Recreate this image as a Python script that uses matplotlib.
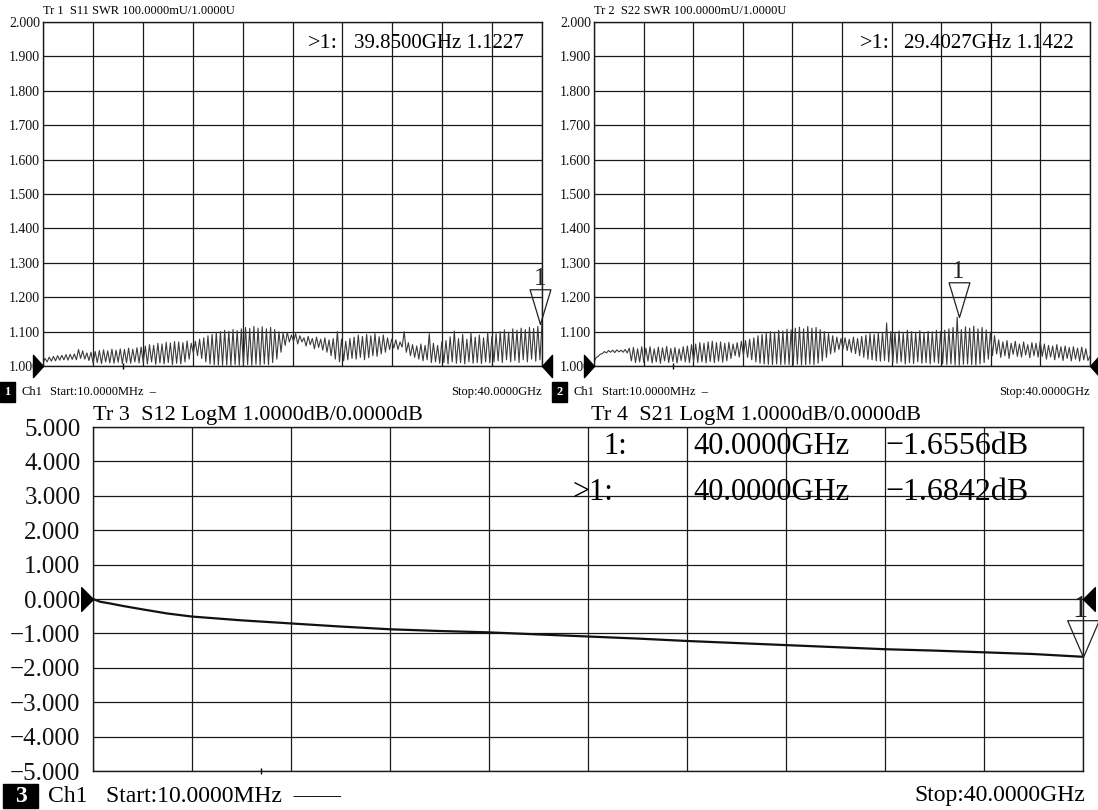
import numpy as np
import matplotlib.pyplot as plt
from matplotlib.patches import Rectangle

plt.rcParams['font.family'] = ['Liberation Serif', 'DejaVu Serif']

W, H = 1098, 810

# Tr1 S11 SWR, alternating ripple highs / lows (24 per 4 GHz division)
s11_swr = [
    1.010, 1.022, 1.012, 1.026, 1.014, 1.028, 1.015, 1.030, 1.017, 1.031, 1.018, 1.033,
    1.017, 1.034, 1.019, 1.035, 1.018, 1.048, 1.022, 1.044, 1.020, 1.038, 1.016, 1.040,
    1.008, 1.042, 1.010, 1.045, 1.007, 1.047, 1.012, 1.044, 1.009, 1.049, 1.008, 1.046,
    1.011, 1.050, 1.007, 1.048, 1.010, 1.052, 1.008, 1.049, 1.012, 1.053, 1.009, 1.055,
    1.010, 1.058, 1.006, 1.062, 1.012, 1.060, 1.005, 1.066, 1.009, 1.064, 1.006, 1.069,
    1.010, 1.067, 1.004, 1.071, 1.008, 1.070, 1.006, 1.068, 1.012, 1.073, 1.020, 1.066,
    1.038, 1.072, 1.030, 1.078, 1.022, 1.082, 1.012, 1.088, 1.006, 1.092, 1.004, 1.097,
    1.003, 1.100, 1.002, 1.104, 1.003, 1.101, 1.002, 1.106, 1.004, 1.103, 1.002, 1.108,
    1.003, 1.112, 1.004, 1.109, 1.002, 1.115, 1.005, 1.110, 1.003, 1.114, 1.006, 1.108,
    1.004, 1.112, 1.010, 1.106, 1.020, 1.100, 1.040, 1.096, 1.060, 1.098, 1.070, 1.090,
    1.072, 1.094, 1.064, 1.088, 1.070, 1.082, 1.058, 1.086, 1.062, 1.080, 1.050, 1.084,
    1.054, 1.078, 1.046, 1.082, 1.040, 1.076, 1.030, 1.080, 1.020, 1.100, 1.012, 1.078,
    1.015, 1.072, 1.018, 1.080, 1.022, 1.084, 1.020, 1.090, 1.025, 1.086, 1.018, 1.092,
    1.024, 1.088, 1.030, 1.094, 1.028, 1.085, 1.035, 1.090, 1.040, 1.082, 1.048, 1.078,
    1.052, 1.076, 1.048, 1.070, 1.055, 1.100, 1.040, 1.068, 1.030, 1.062, 1.025, 1.058,
    1.020, 1.064, 1.015, 1.060, 1.018, 1.094, 1.010, 1.066, 1.012, 1.060, 1.008, 1.070,
    1.010, 1.074, 1.006, 1.085, 1.012, 1.102, 1.008, 1.080, 1.010, 1.092, 1.006, 1.078,
    1.012, 1.095, 1.008, 1.084, 1.010, 1.090, 1.007, 1.082, 1.012, 1.096, 1.009, 1.086,
    1.012, 1.094, 1.015, 1.100, 1.010, 1.105, 1.018, 1.098, 1.012, 1.108, 1.016, 1.104,
    1.010, 1.110, 1.018, 1.106, 1.012, 1.112, 1.020, 1.109, 1.014, 1.115, 1.018, 1.123,
]

# Tr2 S22 SWR
s22_swr = [
    1.012, 1.024, 1.028, 1.034, 1.036, 1.042, 1.038, 1.045, 1.040, 1.046, 1.039, 1.047,
    1.041, 1.046, 1.040, 1.048, 1.038, 1.052, 1.015, 1.054, 1.010, 1.050, 1.012, 1.056,
    1.010, 1.052, 1.014, 1.056, 1.009, 1.050, 1.012, 1.055, 1.008, 1.053, 1.015, 1.057,
    1.010, 1.051, 1.013, 1.054, 1.009, 1.050, 1.016, 1.056, 1.012, 1.058, 1.010, 1.062,
    1.014, 1.064, 1.010, 1.068, 1.012, 1.066, 1.009, 1.070, 1.013, 1.072, 1.010, 1.068,
    1.014, 1.070, 1.011, 1.066, 1.015, 1.069, 1.022, 1.064, 1.030, 1.068, 1.026, 1.072,
    1.032, 1.074, 1.025, 1.078, 1.018, 1.082, 1.012, 1.088, 1.008, 1.092, 1.006, 1.096,
    1.005, 1.100, 1.004, 1.098, 1.006, 1.104, 1.004, 1.102, 1.005, 1.107, 1.004, 1.105,
    1.003, 1.110, 1.005, 1.113, 1.003, 1.108, 1.004, 1.115, 1.006, 1.110, 1.004, 1.112,
    1.008, 1.106, 1.015, 1.100, 1.025, 1.094, 1.035, 1.088, 1.040, 1.084, 1.048, 1.080,
    1.050, 1.082, 1.045, 1.078, 1.040, 1.084, 1.036, 1.080, 1.030, 1.086, 1.025, 1.090,
    1.020, 1.094, 1.018, 1.092, 1.015, 1.096, 1.014, 1.098, 1.016, 1.125, 1.012, 1.100,
    1.010, 1.098, 1.008, 1.102, 1.012, 1.096, 1.006, 1.104, 1.010, 1.100, 1.007, 1.098,
    1.012, 1.103, 1.008, 1.097, 1.010, 1.101, 1.006, 1.099, 1.011, 1.104, 1.008, 1.100,
    1.006, 1.104, 1.004, 1.108, 1.006, 1.112, 1.003, 1.142, 1.002, 1.106, 1.005, 1.114,
    1.006, 1.110, 1.004, 1.116, 1.003, 1.108, 1.006, 1.112, 1.010, 1.105, 1.020, 1.098,
    1.030, 1.088, 1.035, 1.076, 1.025, 1.070, 1.030, 1.074, 1.022, 1.066, 1.034, 1.072,
    1.028, 1.064, 1.026, 1.070, 1.032, 1.062, 1.024, 1.068, 1.030, 1.066, 1.026, 1.072,
    1.028, 1.064, 1.020, 1.060, 1.026, 1.058, 1.018, 1.062, 1.024, 1.056, 1.016, 1.058,
    1.022, 1.054, 1.015, 1.056, 1.020, 1.052, 1.014, 1.055, 1.018, 1.050, 1.016, 1.028,
]

# Tr4 S21 LogM trace
s21_freq = [0.01, 0.3, 0.7, 1.2, 2, 3, 4, 6, 8, 10, 12, 14, 16, 18, 20,
            22, 24, 26, 28, 30, 32, 34, 36, 38, 40]
s21_db = [0.00, -0.08, -0.13, -0.20, -0.30, -0.42, -0.51, -0.62, -0.71, -0.80, -0.88,
          -0.93, -0.97, -1.03, -1.09, -1.15, -1.22, -1.28, -1.34, -1.40, -1.46, -1.50,
          -1.55, -1.60, -1.68]

swr_freq = np.linspace(0.01, 40, len(s11_swr))

# marker readouts
mk_s11 = (39.85, 1.1227)
mk_s22 = (29.4027, 1.1422)
mk_s21 = (40.0, -1.6842)
mk_s12 = (40.0, -1.6556)

fig = plt.figure(figsize=(W / 100, H / 100), dpi=100)


def fx(x):
    return x / W


def fy(y):
    return 1 - y / H


def fmt(v, nd=3):
    return ('%.*f' % (nd, v)).replace('-', '\u2212')


def make_axes(x0, y0, x1, y1, ylo, yhi, fs, pad):
    ax = fig.add_axes([fx(x0), fy(y1), (x1 - x0) / W, (y1 - y0) / H])
    ax.set_xlim(0.01, 40)
    ax.set_ylim(ylo, yhi)
    ax.set_xticks(np.linspace(0.01, 40, 11))
    ticks = np.linspace(ylo, yhi, 11)
    ax.set_yticks(ticks)
    ax.set_yticklabels([fmt(v) for v in ticks])
    ax.tick_params(length=0, labelbottom=False, labelsize=fs, pad=pad, colors='#111111')
    ax.grid(True, color='#1a1a1a', lw=0.9)
    for s in ax.spines.values():
        s.set_color('#1a1a1a')
        s.set_linewidth(1.0)
    return ax


def side_refs(ax, yref, ms, w):
    ax.plot(0.01, yref, marker=[(0, 0), (-w, 1), (-w, -1), (0, 0)], ms=ms, color='k',
            clip_on=False, zorder=5)
    ax.plot(40, yref, marker=[(0, 0), (w, 1), (w, -1), (0, 0)], ms=ms, color='k',
            clip_on=False, zorder=5)


def marker_tri(ax, pos, ms, w, fs, dy, dx=0):
    ax.plot(*pos, marker=[(0, 0), (-w, 1), (w, 1), (0, 0)], ms=ms, mfc='none',
            mec='#222222', mew=0.9, clip_on=False, zorder=6)
    t = ax.annotate('1', pos, xytext=(dx, dy), textcoords='offset points', ha='center',
                    va='baseline', fontsize=fs, color='#222222', annotation_clip=False,
                    zorder=7)
    t.set_clip_on(False)


# ---- top left: S11 ----
ax1 = make_axes(43, 22, 542, 366, 1.0, 2.0, 10, 2)
ax1.plot(swr_freq, s11_swr, color='#3c3c3c', lw=0.8)
side_refs(ax1, 1.0, 16, 0.9)
marker_tri(ax1, mk_s11, 50, 0.3, 18, 28)
ax1.plot(6.4, 1.0, marker='|', ms=4, color='k', clip_on=False)

# ---- top right: S22 ----
ax2 = make_axes(594, 22, 1090, 366, 1.0, 2.0, 10, 2)
ax2.plot(swr_freq, s22_swr, color='#3c3c3c', lw=0.8)
side_refs(ax2, 1.0, 16, 0.9)
marker_tri(ax2, mk_s22, 50, 0.3, 18, 28)
ax2.plot(6.4, 1.0, marker='|', ms=4, color='k', clip_on=False)

# ---- bottom: S12 / S21 ----
ax3 = make_axes(93, 427, 1083, 771, -5.0, 5.0, 18, 9)
ax3.plot(s21_freq, s21_db, color='#111111', lw=1.6)
side_refs(ax3, 0.0, 17, 1.0)
marker_tri(ax3, mk_s21, 53, 0.43, 22, 29, dx=-2)
ax3.plot(6.8, -5.0, marker='|', ms=4, color='k', clip_on=False)

# ---- header texts ----
fig.text(fx(43), fy(11), 'Tr 1  S11 SWR 100.0000mU/1.0000U', fontsize=9, va='center')
fig.text(fx(594), fy(11), 'Tr 2  S22 SWR 100.0000mU/1.0000U', fontsize=9, va='center')
fig.text(fx(93), fy(415), 'Tr 3  S12 LogM 1.0000dB/0.0000dB', fontsize=16, va='center')
fig.text(fx(591), fy(415), 'Tr 4  S21 LogM 1.0000dB/0.0000dB', fontsize=16, va='center')

# marker readouts
fig.text(fx(308), fy(43), '>1:', fontsize=16, va='center')
fig.text(fx(524), fy(43), '%.4fGHz %.4f' % mk_s11, fontsize=15, va='center', ha='right')
fig.text(fx(860), fy(43), '>1:', fontsize=16, va='center')
fig.text(fx(1074), fy(43), '%.4fGHz %.4f' % mk_s22, fontsize=15, va='center', ha='right')
fig.text(fx(603), fy(447), '1:', fontsize=22, va='center')
fig.text(fx(693), fy(447), '%.4fGHz' % mk_s12[0], fontsize=22, va='center')
fig.text(fx(885), fy(447), fmt(mk_s12[1], 4) + 'dB', fontsize=23, va='center')
fig.text(fx(572), fy(493), '>1:', fontsize=22, va='center')
fig.text(fx(693), fy(493), '%.4fGHz' % mk_s21[0], fontsize=22, va='center')
fig.text(fx(885), fy(493), fmt(mk_s21[1], 4) + 'dB', fontsize=23, va='center')

# ---- channel status lines ----
for x0, x1, y0, y1, num, fs, tx, sx, stop_x, start_txt in [
        (0, 15, 382, 402, '1', 9, 21, 50, 542, 'Start:10.0000MHz  \u2013'),
        (552, 567, 382, 402, '2', 9, 573, 602, 1090, 'Start:10.0000MHz  \u2013'),
        (3, 38, 784, 808, '3', 17, 48, 106, 1085, 'Start:10.0000MHz  \u2014\u2014')]:
    fig.patches.append(Rectangle((fx(x0), fy(y1)), (x1 - x0) / W, (y1 - y0) / H,
                                 transform=fig.transFigure, color='k'))
    yc = fy((y0 + y1) / 2)
    fig.text(fx((x0 + x1) / 2), yc, num, color='white', fontsize=fs, ha='center',
             va='center', fontweight='bold')
    fig.text(fx(tx), yc, 'Ch1', fontsize=fs, va='center')
    fig.text(fx(sx), yc, start_txt, fontsize=fs, va='center')
    fig.text(fx(stop_x), yc, 'Stop:40.0000GHz', fontsize=fs, va='center', ha='right')

fig.savefig('out.png', dpi=100, facecolor='white')
